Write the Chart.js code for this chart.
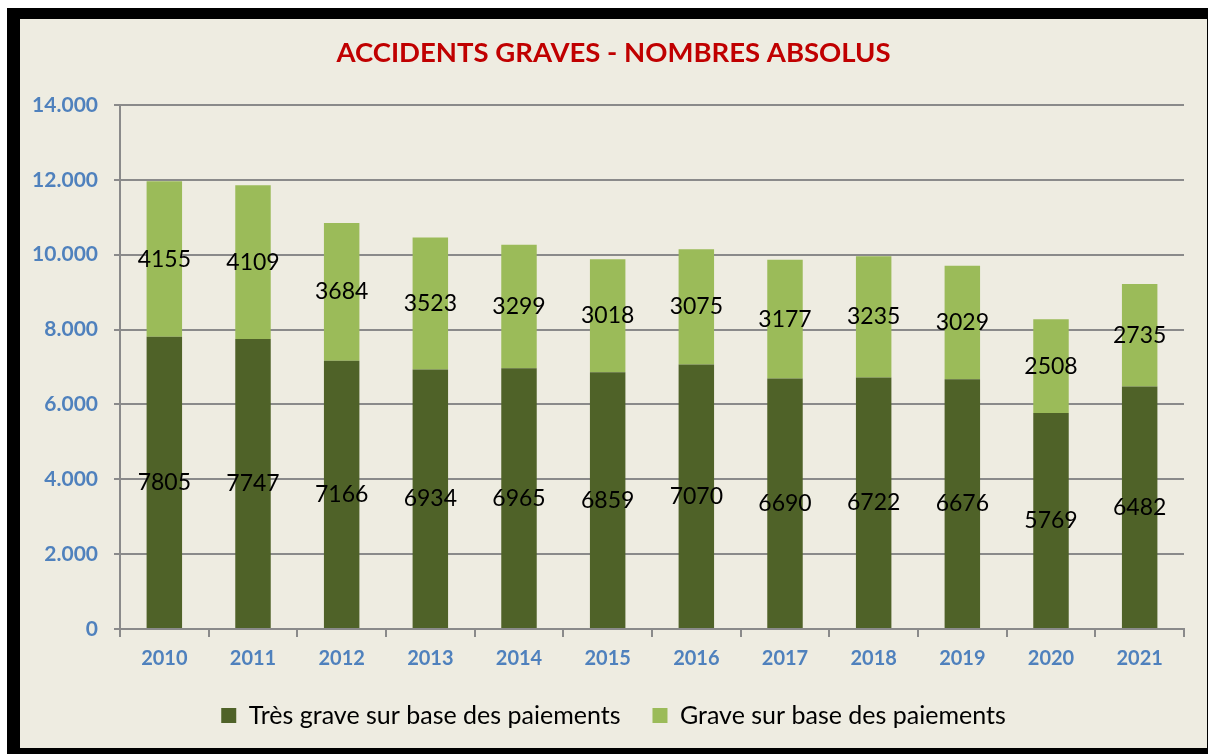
<!DOCTYPE html>
<html>
<head>
<meta charset="utf-8">
<script src="https://cdn.jsdelivr.net/npm/chart.js@4/dist/chart.umd.min.js"></script>
<style>
  html, body { margin: 0; padding: 0; background: #ffffff; width: 1208px; height: 754px; overflow: hidden; }
  #frame { position: absolute; left: 7px; top: 8px; width: 1220px; height: 760px; background: #000; }
  #inner { position: absolute; left: 20px; top: 19px; width: 1187px; height: 729px; background: #EEECE1; }
  canvas { display: block; }
</style>
</head>
<body>
<div id="frame"></div>
<div id="inner"><canvas id="c" width="1187" height="729"></canvas></div>
<script>
const categories = ['2010','2011','2012','2013','2014','2015','2016','2017','2018','2019','2020','2021'];
const tresGrave = [7805, 7747, 7166, 6934, 6965, 6859, 7070, 6690, 6722, 6676, 5769, 6482];
const grave = [4155, 4109, 3684, 3523, 3299, 3018, 3075, 3177, 3235, 3029, 2508, 2735];
const seriesNames = ['Très grave sur base des paiements', 'Grave sur base des paiements'];
const titleText = 'ACCIDENTS GRAVES - NOMBRES ABSOLUS';

const gridColor = '#8A8A8A';
const tickBlue = '#4F81BD';

const labelPlugin = {
  id: 'segLabels',
  afterDatasetsDraw(chart) {
    const ctx = chart.ctx;
    ctx.save();
    ctx.font = '23px Lato';
    ctx.fillStyle = '#000';
    ctx.textAlign = 'center';
    ctx.textBaseline = 'middle';
    chart.data.datasets.forEach((ds, i) => {
      const meta = chart.getDatasetMeta(i);
      meta.data.forEach((el, j) => {
        const p = el.getProps(['x', 'y', 'base'], true);
        ctx.fillText(String(ds.data[j]), p.x, (p.y + p.base) / 2);
      });
    });
    ctx.restore();
  }
};

Chart.defaults.font.family = 'Lato';

new Chart(document.getElementById('c'), {
  type: 'bar',
  data: {
    labels: categories,
    datasets: [
      { label: seriesNames[0], data: tresGrave, backgroundColor: '#4F6228', barPercentage: 0.4, categoryPercentage: 1.0 },
      { label: seriesNames[1], data: grave, backgroundColor: '#9BBB59', barPercentage: 0.4, categoryPercentage: 1.0 }
    ]
  },
  options: {
    responsive: false,
    animation: false,
    layout: { padding: { left: 0, right: 0, top: 0, bottom: 10 } },
    plugins: {
      title: {
        display: true,
        text: titleText,
        color: '#C00000',
        font: { size: 27.5, weight: 'bold', family: 'Lato' },
        padding: { top: 18, bottom: 35 }
      },
      legend: {
        position: 'bottom',
        labels: {
          color: '#000',
          font: { size: 25, family: 'Lato' },
          boxWidth: 15,
          boxHeight: 15,
          padding: 32
        }
      },
      tooltip: { enabled: false }
    },
    scales: {
      x: {
        stacked: true,
        afterFit(scale) { scale.height = 42; },
        grid: { display: true, drawOnChartArea: false, drawTicks: true, tickLength: 8, color: gridColor, lineWidth: 2 },
        border: { display: true, color: gridColor, width: 2 },
        ticks: { color: tickBlue, font: { size: 20, weight: 'bold' }, padding: 10 }
      },
      y: {
        stacked: true,
        min: 0,
        max: 14000,
        afterFit(scale) { scale.width = 100; },
        grid: { color: gridColor, lineWidth: 2, tickLength: 6 },
        border: { display: true, color: gridColor, width: 2 },
        ticks: {
          stepSize: 2000,
          color: tickBlue,
          font: { size: 21, weight: 'bold' },
          padding: 16,
          callback: (v) => String(v).replace(/\B(?=(\d{3})+(?!\d))/g, '.')
        }
      },
      yRightSpace: {
        type: 'linear',
        position: 'right',
        min: 0,
        max: 14000,
        afterFit(scale) { scale.width = 23; },
        grid: { display: false, drawTicks: false },
        border: { display: false },
        ticks: { display: false }
      }
    }
  },
  plugins: [labelPlugin]
});
</script>
</body>
</html>
